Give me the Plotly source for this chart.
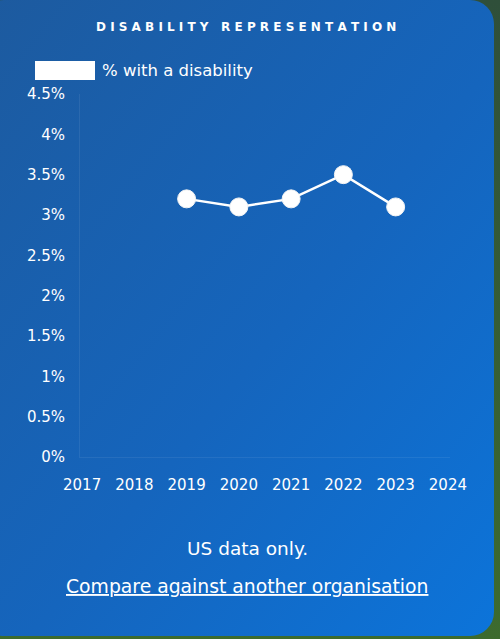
import base64
import plotly.graph_objects as go

years = [2019, 2020, 2021, 2022, 2023]
pct_disability = [3.2, 3.1, 3.2, 3.5, 3.1]
x_ticks = [2017, 2018, 2019, 2020, 2021, 2022, 2023, 2024]
y_ticks = [0, 0.5, 1, 1.5, 2, 2.5, 3, 3.5, 4, 4.5]
y_tick_labels = ["0%", "0.5%", "1%", "1.5%", "2%", "2.5%", "3%", "3.5%", "4%", "4.5%"]
series_name = "% with a disability"
title = "DISABILITY REPRESENTATION"

FONT = "DejaVu Sans"

svg = """<svg xmlns='http://www.w3.org/2000/svg' width='500' height='639' viewBox='0 0 500 639'>
<defs><linearGradient id='g' x1='0' y1='0' x2='1' y2='1'>
<stop offset='0' stop-color='#1d5a9e'/><stop offset='0.55' stop-color='#1565bd'/><stop offset='1' stop-color='#0c74da'/>
</linearGradient>
<linearGradient id='bg' x1='0' y1='0' x2='0' y2='1'>
<stop offset='0' stop-color='#2f4f3a'/><stop offset='1' stop-color='#3d6b2e'/></linearGradient></defs>
<rect x='0' y='0' width='500' height='639' fill='url(#bg)'/>
<rect x='-20' y='0' width='514' height='636' rx='24' ry='24' fill='url(#g)'/>
</svg>"""
uri = "data:image/svg+xml;base64," + base64.b64encode(svg.encode()).decode()

spaced_title = "   ".join(" ".join(list(w)) for w in title.split(" "))

fig = go.Figure()
fig.add_trace(go.Scatter(
    x=years, y=pct_disability, mode="lines+markers", name=series_name,
    line=dict(color="white", width=2.5),
    marker=dict(size=18, color="white", line=dict(color="#f4f4f4", width=1)),
    showlegend=False,
))

fig.update_layout(
    width=500, height=639,
    margin=dict(l=80, r=50, t=94, b=182),
    paper_bgcolor="#1a62b4", plot_bgcolor="rgba(0,0,0,0)",
    font=dict(family=FONT, color="white", size=15),
    images=[dict(source=uri, xref="paper", yref="paper", x=-80/370, y=1 + 94/363,
                 sizex=500/370, sizey=639/363, xanchor="left", yanchor="top",
                 sizing="stretch", layer="below")],
    xaxis=dict(range=[2016.96, 2024.04], tickvals=x_ticks, ticktext=[str(v) for v in x_ticks],
               showgrid=False, zeroline=False, showline=True, linecolor="rgba(255,255,255,0.07)",
               ticks="outside", ticklen=14, tickcolor="rgba(0,0,0,0)", fixedrange=True,
               tickfont=dict(size=15, family=FONT)),
    yaxis=dict(range=[0, 4.5], tickvals=y_ticks, ticktext=y_tick_labels,
               showgrid=False, zeroline=False, showline=True, linecolor="rgba(255,255,255,0.07)",
               ticks="outside", ticklen=11, tickcolor="rgba(0,0,0,0)",
               tickfont=dict(size=15, family=FONT)),
    shapes=[dict(type="rect", xref="paper", yref="paper",
                 x0=-45/370, x1=15/370, y0=1 + (94 - 80) / 363, y1=1 + (94 - 61) / 363,
                 fillcolor="white", line=dict(width=0))],
    annotations=[
        dict(text=spaced_title,
             xref="paper", yref="paper", x=(246 - 80) / 370, y=1 + (94 - 27) / 363,
             showarrow=False, font=dict(size=12, family=FONT, color="white", weight="bold"),
             xanchor="center", yanchor="middle"),
        dict(text=series_name, xref="paper", yref="paper", x=(100 - 80) / 370, y=1 + (94 - 70) / 363,
             showarrow=False, font=dict(size=16.5, family=FONT), xanchor="left", yanchor="middle"),
        dict(text="US data only.", xref="paper", yref="paper", x=(247 - 80) / 370,
             y=-(548 - 457) / 363, showarrow=False, font=dict(size=18.5, family=FONT),
             xanchor="center", yanchor="middle"),
        dict(text="<u>Compare against another organisation</u>", xref="paper", yref="paper",
             x=(247 - 80) / 370, y=-(586 - 457) / 363, showarrow=False,
             font=dict(size=18.8, family=FONT), xanchor="center", yanchor="middle"),
    ],
)

fig.write_html("out.html", config={"displayModeBar": False},
               post_script="document.body.style.margin='0';")
